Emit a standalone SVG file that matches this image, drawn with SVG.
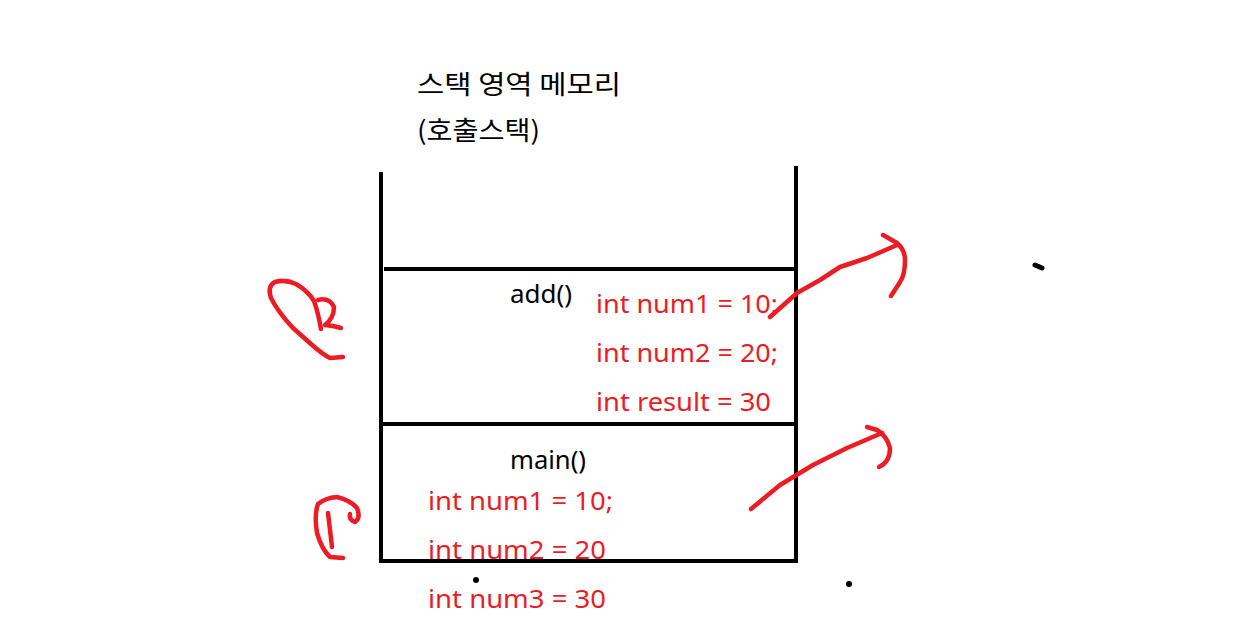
<svg xmlns="http://www.w3.org/2000/svg" width="1238" height="640" viewBox="0 0 1238 640">
<style>
.k{stroke:#000;stroke-width:4;fill:none;stroke-linecap:square}
.r{stroke:#ED1C24;stroke-width:4.5;fill:none;stroke-linecap:round;stroke-linejoin:round}
.t{font-family:"Noto Sans","Noto Sans CJK KR",sans-serif;font-size:26px;fill:#000}
.rt{font-family:"Noto Sans",sans-serif;font-size:26px;fill:#ED1C24}
</style>
<rect width="1238" height="640" fill="#fff"/>
<g id="title">
<text class="t" x="417" y="94" textLength="204" lengthAdjust="spacingAndGlyphs" style="font-family:'Noto Sans CJK KR',sans-serif">스택 영역 메모리</text>
<text class="t" x="417" y="140" textLength="123" lengthAdjust="spacingAndGlyphs" style="font-family:'Noto Sans CJK KR',sans-serif">(호출스택)</text>
</g>
<g id="stack">
<path class="k" d="M381 174 V561 M796 168 V561 M386 269 H796 M381 424 H796 M381 561 H796"/>
</g>
<g id="add-frame">
<text class="t" x="510" y="303" textLength="62" lengthAdjust="spacingAndGlyphs">add()</text>
<text class="rt" x="596" y="313" textLength="182" lengthAdjust="spacingAndGlyphs">int num1 = 10;</text>
<text class="rt" x="596" y="362" textLength="182" lengthAdjust="spacingAndGlyphs">int num2 = 20;</text>
<text class="rt" x="596" y="411" textLength="175" lengthAdjust="spacingAndGlyphs">int result = 30</text>
</g>
<g id="main-frame">
<text class="t" x="510" y="469" textLength="76" lengthAdjust="spacingAndGlyphs">main()</text>
<text class="rt" x="428" y="510" textLength="185" lengthAdjust="spacingAndGlyphs">int num1 = 10;</text>
<text class="rt" x="428" y="559" textLength="178" lengthAdjust="spacingAndGlyphs">int num2 = 20</text>
<text class="rt" x="428" y="608" textLength="178" lengthAdjust="spacingAndGlyphs">int num3 = 30</text>
</g>
<g id="scribbles">
<path class="r" d="M343 357 L330 358 Q322 354 311 344 L293 328 Q278 312 271 298 Q267 286 275 282 Q285 279 296 284 Q308 291 314 301 Q318 312 321 329"/>
<path class="r" d="M318 300 Q329 297 334 307 Q334 318 325 325 L333 326 L341 328"/>
<path class="r" d="M343 558 L330 557 Q322 550 317 533 Q314 515 318 504 Q325 498 337 497 Q350 500 357 508 Q361 518 355 522 Q349 520 350 514"/>
<path class="r" d="M328 513 L332 547"/>
</g>
<g id="connectors">
<path class="r" d="M770 317 L797 293 L820 280 L840 267 L867 258 L897 245"/>
<path class="r" d="M883 235 L897 243 Q905 250 905 260 Q905 275 900 282 L891 296"/>
<path class="r" d="M751 509 L780 485 L813 465 L847 448 L882 433"/>
<path class="r" d="M867 427 L877 430 Q887 436 890 448 Q890 462 879 467"/>
</g>
<g id="dots">
<path d="M1035 265 L1042 268" stroke="#000" stroke-width="5" stroke-linecap="round"/>
<circle cx="476" cy="580" r="3" fill="#000"/>
<circle cx="849" cy="584" r="3" fill="#000"/>
</g>
</svg>
